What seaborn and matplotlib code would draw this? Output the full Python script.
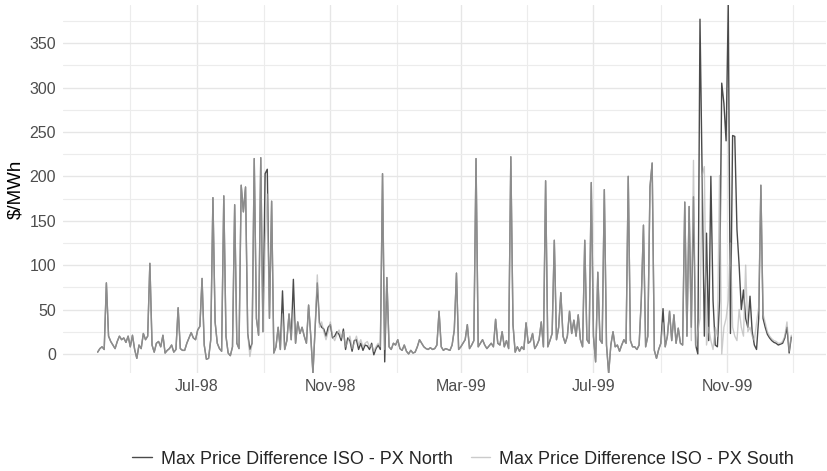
import numpy as np
import pandas as pd
import matplotlib
matplotlib.use("Agg")
import matplotlib.pyplot as plt
import seaborn as sns

# ---------------- data ----------------
start_date = "1998-04-01"
step_days = 2

south = [
    2, 6, 8, 5, 80, 20, 14, 10, 6, 14,
    20, 16, 18, 13, 20, 8, 21, 5, -5, 10,
    6, 23, 16, 20, 102, 10, 2, 12, 14, 8,
    21, 1, 4, 6, 10, 2, 5, 52, 6, 4,
    4, 12, 18, 24, 18, 16, 27, 31, 85, 10,
    -6, -5, 16, 176, 36, 12, 6, 3, 178, 20,
    1, -2, 8, 168, 12, 6, 190, 160, 188, 23,
    -3, 12, 220, 40, 21, 221, 25, 125, 180, 40,
    172, 1, 8, 30, 5, 45, 5, 15, 45, 16,
    50, 12, 36, 23, 30, 20, 12, 55, 20, -22,
    30, 89, 30, 36, 25, 16, 25, 36, 20, 15,
    22, 27, 18, 25, 8, 14, 20, 6, 12, 20,
    10, 16, 8, 12, 14, 8, 10, 3, 8, 12,
    8, 203, 5, 86, 8, 5, 12, 10, 16, 6,
    4, 10, 3, 0, 4, 1, 2, 8, 16, 12,
    8, 6, 5, 7, 5, 6, 10, 48, 8, 4,
    6, 5, 4, 10, 27, 91, 5, 8, 12, 16,
    33, 6, 10, 15, 220, 8, 12, 16, 10, 6,
    9, 12, 8, 39, 12, 10, 25, 8, 15, 6,
    222, 33, 2, 8, 3, 8, 5, 35, 12, 14,
    23, 6, 10, 16, 36, 8, 195, 8, 15, 23,
    128, 16, 30, 69, 20, 12, 20, 48, 23, 38,
    20, 44, 16, 8, 128, 16, 12, 193, 20, -9,
    92, 16, 12, 185, 10, -22, 10, 25, 8, 10,
    3, 10, 16, 12, 200, 15, 8, 8, 5, 10,
    61, 145, 8, 20, 188, 215, 4, -5, 5, 12,
    35, 8, 20, 48, 15, 44, 12, 29, 12, 10,
    171, 20, 166, 15, 218, 8, 25, 40, 201, 211,
    10, 30, 15, 5, 30, 20, 201, 0, 30, 40,
    60, 125, 30, 20, 15, 50, 30, 20, 100, 25,
    30, 20, 15, 35, 53, 190, 45, 35, 25, 20,
    17, 15, 14, 12, 12, 14, 20, 36, 3, 21,
]

north = [
    2, 6, 8, 5, 80, 20, 14, 10, 6, 14,
    20, 16, 18, 13, 20, 8, 21, 5, -5, 10,
    6, 23, 16, 20, 102, 10, 2, 12, 14, 8,
    21, 1, 4, 6, 10, 2, 5, 52, 6, 4,
    4, 12, 18, 24, 18, 16, 27, 31, 85, 10,
    -6, -5, 16, 176, 36, 12, 6, 3, 178, 20,
    1, -2, 8, 168, 12, 6, 190, 160, 188, 23,
    5, 12, 220, 40, 21, 221, 25, 203, 208, 40,
    172, 1, 8, 30, 5, 71, 5, 15, 45, 16,
    84, 12, 36, 23, 30, 20, 12, 55, 20, -22,
    28, 80, 35, 30, 28, 20, 30, 33, 18, 20,
    25, 22, 15, 28, 5, 18, 15, 3, 15, 16,
    5, 12, 4, 10, 9, 5, 12, -1, 6, 10,
    5, 203, -9, 86, 8, 5, 12, 10, 16, 6,
    4, 10, 3, 0, 4, 1, 2, 8, 16, 12,
    8, 6, 5, 7, 5, 6, 10, 48, 8, 4,
    6, 5, 4, 10, 27, 91, 5, 8, 12, 16,
    33, 6, 10, 15, 220, 8, 12, 16, 10, 6,
    9, 12, 8, 39, 12, 10, 25, 8, 15, 6,
    222, 33, 2, 8, 3, 8, 5, 35, 12, 14,
    23, 6, 10, 16, 36, 8, 195, 8, 15, 23,
    128, 16, 30, 69, 20, 12, 20, 48, 23, 38,
    20, 44, 16, 8, 128, 16, 12, 193, 20, -9,
    92, 16, 12, 185, 10, -22, 10, 25, 8, 10,
    3, 10, 16, 12, 200, 15, 8, 8, 5, 10,
    61, 145, 8, 20, 188, 215, 4, -5, 5, 12,
    51, 8, 20, 48, 15, 44, 12, 29, 12, 10,
    171, 20, 166, 30, 177, 10, 0, 377, 201, 20,
    136, 15, 200, 60, 10, 8, 60, 305, 282, 240,
    393, 23, 246, 245, 140, 100, 50, 72, 40, 30,
    65, 25, 10, 5, 40, 190, 40, 30, 22, 18,
    15, 13, 12, 10, 11, 12, 18, 30, 1, 19,
]

series_names = ["Max Price Difference ISO - PX North",
                "Max Price Difference ISO - PX South"]
y_ticks = [0, 50, 100, 150, 200, 250, 300, 350]
y_minor = [25, 75, 125, 175, 225, 275, 325, 375]
x_tick_dates = ["1998-07-01", "1998-11-01", "1999-03-01", "1999-07-01", "1999-11-01"]
x_tick_labels = ["Jul-98", "Nov-98", "Mar-99", "Jul-99", "Nov-99"]
x_minor_dates = ["1998-05-01", "1998-09-01", "1999-01-01", "1999-05-01",
                 "1999-09-01", "2000-01-01"]
y_label = "\\$/MWh"

# ---------------- frame ----------------
dates = pd.date_range(start_date, periods=len(south), freq=f"{step_days}D")
n = len(dates)
df = pd.DataFrame({
    "date": list(dates) + list(dates),
    "value": north + south,
    "series": [series_names[0]] * n + [series_names[1]] * n,
})

sns.set_theme(style="white")
plt.rcParams["font.family"] = ["Liberation Sans", "DejaVu Sans"]

W, H = 828, 471
fig = plt.figure(figsize=(W / 100, H / 100), dpi=100)
ax = fig.add_axes([63 / W, (H - 373) / H, (826 - 63) / W, 368 / H])

sns.lineplot(data=df[df["series"] == series_names[0]], x="date", y="value",
             color="#4a4a4a", linewidth=1.0, estimator=None, ax=ax,
             label=series_names[0])
sns.lineplot(data=df[df["series"] == series_names[1]], x="date", y="value",
             color="#b0b0b0", alpha=0.65, linewidth=1.0, estimator=None, ax=ax,
             label=series_names[1])

d0, d1 = dates.min(), dates.max()
pad = (d1 - d0) * 0.05
ax.set_xlim(d0 - pad, d1 + pad)
ax.set_ylim(-21.5, 393)

ax.set_yticks(y_ticks)
ax.set_yticks(y_minor, minor=True)
ax.set_xticks(pd.to_datetime(x_tick_dates))
ax.set_xticklabels(x_tick_labels)
ax.set_xticks(pd.to_datetime(x_minor_dates), minor=True)

ax.grid(which="major", color="#e6e6e6", linewidth=1.0)
ax.grid(which="minor", color="#ececec", linewidth=0.8)
ax.set_axisbelow(True)
for s in ax.spines.values():
    s.set_visible(False)
ax.tick_params(which="both", length=0)
ax.tick_params(axis="y", labelsize=11.5, labelcolor="#4d4d4d", pad=5)
ax.tick_params(axis="x", labelsize=11.5, labelcolor="#4d4d4d", pad=4)
ax.set_xlabel("")
ax.set_ylabel("")

fig.text(16 / W, 1 - 189 / H, y_label, rotation=90, ha="center", va="center",
         fontsize=13.5, color="black")

handles, labels = ax.get_legend_handles_labels()
if ax.get_legend() is not None:
    ax.get_legend().remove()
fig.legend(handles, labels, loc="center", bbox_to_anchor=(463 / W, 12 / H),
           ncol=2, frameon=False, fontsize=13, handlelength=1.1,
           handletextpad=0.5, columnspacing=1.0)

fig.savefig("out.png", dpi=100)
